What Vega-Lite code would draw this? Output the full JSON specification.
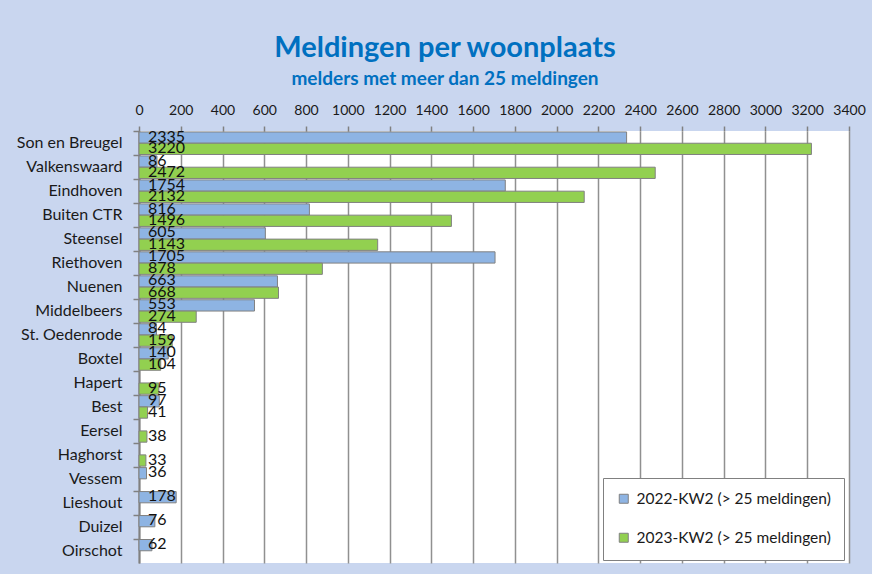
{
  "$schema": "https://vega.github.io/schema/vega-lite/v6.json",
  "autosize": {"type": "none"},
  "padding": {"left": 139, "top": 131, "right": 23, "bottom": 11},
  "width": 710,
  "height": 432,
  "background": "#c9d6ef",
  "title": {
    "text": "Meldingen per woonplaats",
    "subtitle": "melders met meer dan 25 meldingen",
    "anchor": "middle",
    "frame": "group",
    "dx": -49,
    "offset": 14,
    "font": "Lato",
    "fontSize": 29,
    "fontWeight": "bold",
    "color": "#0070c0",
    "subtitleFont": "Lato",
    "subtitleFontSize": 19,
    "subtitleFontWeight": "bold",
    "subtitleColor": "#0070c0",
    "subtitlePadding": 7
  },
  "config": {
    "view": {"fill": "white", "stroke": null},
    "font": "Lato"
  },
  "data": {
    "values": [
      {"plaats": "Son en Breugel", "reeks": "2022-KW2 (> 25 meldingen)", "aantal": 2335},
      {"plaats": "Son en Breugel", "reeks": "2023-KW2 (> 25 meldingen)", "aantal": 3220},
      {"plaats": "Valkenswaard", "reeks": "2022-KW2 (> 25 meldingen)", "aantal": 86},
      {"plaats": "Valkenswaard", "reeks": "2023-KW2 (> 25 meldingen)", "aantal": 2472},
      {"plaats": "Eindhoven", "reeks": "2022-KW2 (> 25 meldingen)", "aantal": 1754},
      {"plaats": "Eindhoven", "reeks": "2023-KW2 (> 25 meldingen)", "aantal": 2132},
      {"plaats": "Buiten CTR", "reeks": "2022-KW2 (> 25 meldingen)", "aantal": 816},
      {"plaats": "Buiten CTR", "reeks": "2023-KW2 (> 25 meldingen)", "aantal": 1496},
      {"plaats": "Steensel", "reeks": "2022-KW2 (> 25 meldingen)", "aantal": 605},
      {"plaats": "Steensel", "reeks": "2023-KW2 (> 25 meldingen)", "aantal": 1143},
      {"plaats": "Riethoven", "reeks": "2022-KW2 (> 25 meldingen)", "aantal": 1705},
      {"plaats": "Riethoven", "reeks": "2023-KW2 (> 25 meldingen)", "aantal": 878},
      {"plaats": "Nuenen", "reeks": "2022-KW2 (> 25 meldingen)", "aantal": 663},
      {"plaats": "Nuenen", "reeks": "2023-KW2 (> 25 meldingen)", "aantal": 668},
      {"plaats": "Middelbeers", "reeks": "2022-KW2 (> 25 meldingen)", "aantal": 553},
      {"plaats": "Middelbeers", "reeks": "2023-KW2 (> 25 meldingen)", "aantal": 274},
      {"plaats": "St. Oedenrode", "reeks": "2022-KW2 (> 25 meldingen)", "aantal": 84},
      {"plaats": "St. Oedenrode", "reeks": "2023-KW2 (> 25 meldingen)", "aantal": 159},
      {"plaats": "Boxtel", "reeks": "2022-KW2 (> 25 meldingen)", "aantal": 140},
      {"plaats": "Boxtel", "reeks": "2023-KW2 (> 25 meldingen)", "aantal": 104},
      {"plaats": "Hapert", "reeks": "2023-KW2 (> 25 meldingen)", "aantal": 95},
      {"plaats": "Best", "reeks": "2022-KW2 (> 25 meldingen)", "aantal": 97},
      {"plaats": "Best", "reeks": "2023-KW2 (> 25 meldingen)", "aantal": 41},
      {"plaats": "Eersel", "reeks": "2023-KW2 (> 25 meldingen)", "aantal": 38},
      {"plaats": "Haghorst", "reeks": "2023-KW2 (> 25 meldingen)", "aantal": 33},
      {"plaats": "Vessem", "reeks": "2022-KW2 (> 25 meldingen)", "aantal": 36},
      {"plaats": "Lieshout", "reeks": "2022-KW2 (> 25 meldingen)", "aantal": 178},
      {"plaats": "Duizel", "reeks": "2022-KW2 (> 25 meldingen)", "aantal": 76},
      {"plaats": "Oirschot", "reeks": "2022-KW2 (> 25 meldingen)", "aantal": 62}
    ]
  },
  "encoding": {
    "y": {
      "field": "plaats",
      "type": "nominal",
      "sort": ["Son en Breugel", "Valkenswaard", "Eindhoven", "Buiten CTR", "Steensel", "Riethoven", "Nuenen", "Middelbeers", "St. Oedenrode", "Boxtel", "Hapert", "Best", "Eersel", "Haghorst", "Vessem", "Lieshout", "Duizel", "Oirschot"],
      "scale": {"paddingInner": 0.06, "paddingOuter": 0.04},
      "axis": {
        "title": null,
        "labelFont": "Lato",
        "labelFontSize": 16,
        "labelColor": "#1a1a1a",
        "labelPadding": 11,
        "bandPosition": 0,
        "tickSize": 6,
        "tickColor": "#808080",
        "tickWidth": 1.5,
        "domainColor": "#808080",
        "domainWidth": 2
      }
    },
    "yOffset": {
      "field": "reeks",
      "type": "nominal",
      "scale": {"paddingInner": 0, "paddingOuter": 0}
    }
  },
  "layer": [
    {
      "mark": {"type": "bar", "stroke": "#808080", "strokeWidth": 1},
      "encoding": {
        "x": {
          "field": "aantal",
          "type": "quantitative",
          "scale": {"domain": [0, 3400], "nice": false},
          "axis": {
            "orient": "top",
            "title": null,
            "format": "d",
            "values": [0, 200, 400, 600, 800, 1000, 1200, 1400, 1600, 1800, 2000, 2200, 2400, 2600, 2800, 3000, 3200, 3400],
            "labelFont": "Lato",
            "labelFontSize": 14,
            "labelColor": "#1a1a1a",
            "labelPadding": 9,
            "labelFlush": false,
            "labelOverlap": false,
            "domain": false,
            "tickSize": 5,
            "tickColor": "#808080",
            "tickWidth": 1.5,
            "grid": true,
            "gridColor": "#909090",
            "gridWidth": 1.5
          }
        },
        "color": {
          "field": "reeks",
          "type": "nominal",
          "scale": {
            "domain": ["2022-KW2 (> 25 meldingen)", "2023-KW2 (> 25 meldingen)"],
            "range": ["#8eb4e3", "#92d050"]
          },
          "legend": {
            "title": null,
            "orient": "none",
            "legendX": 464,
            "legendY": 347,
            "fillColor": "white",
            "strokeColor": "#808080",
            "padding": 13,
            "rowPadding": 22,
            "symbolType": "square",
            "symbolSize": 81,
            "symbolStrokeColor": "#808080",
            "symbolStrokeWidth": 1,
            "symbolOpacity": 1,
            "labelFont": "Lato",
            "labelFontSize": 15.5,
            "labelColor": "#1a1a1a",
            "labelOffset": 5,
            "labelLimit": 300
          }
        }
      }
    },
    {
      "mark": {"type": "text", "align": "left", "baseline": "middle", "dx": 9, "dy": -1, "font": "Lato", "fontSize": 16, "color": "#111111"},
      "encoding": {
        "x": {"datum": 0, "type": "quantitative"},
        "text": {"field": "aantal", "type": "quantitative"}
      }
    }
  ]
}
